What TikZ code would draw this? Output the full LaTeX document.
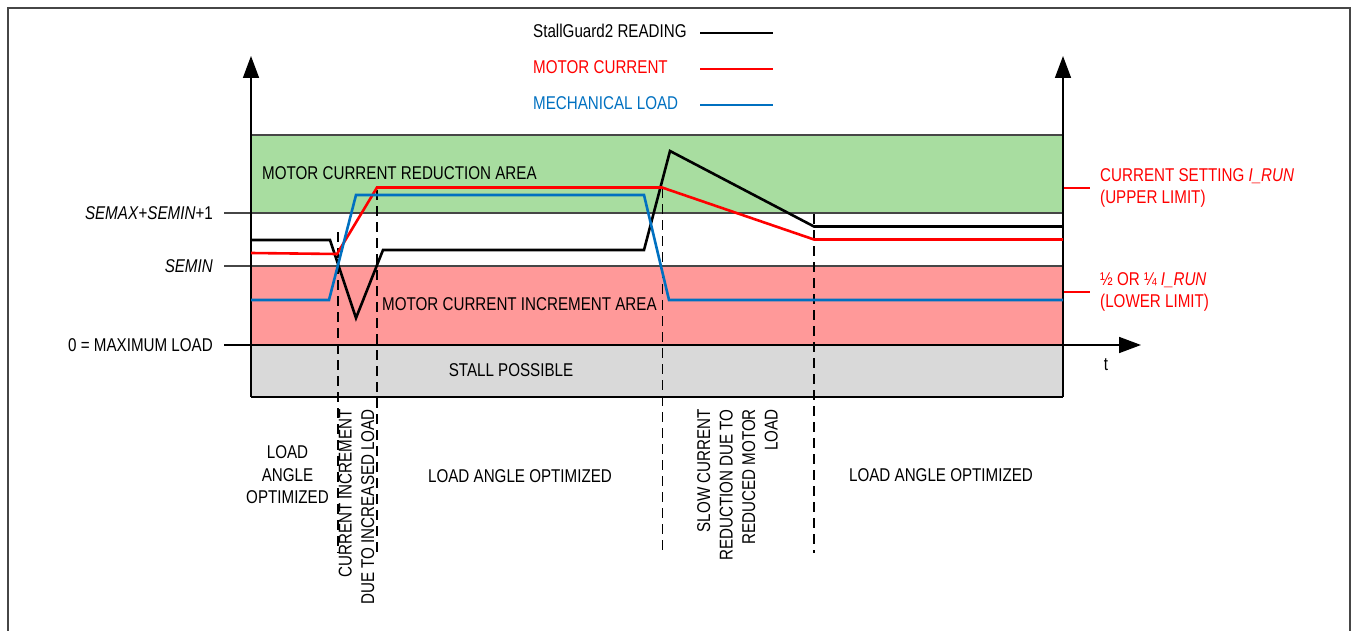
\documentclass[tikz,border=0pt]{standalone}
\usepackage{fontspec}
\setmainfont{Liberation Sans}[FakeStretch=0.82]
\usetikzlibrary{positioning,arrows.meta}

\definecolor{areagreen}{RGB}{168,221,160}
\definecolor{areared}{RGB}{255,153,153}
\definecolor{areagrey}{RGB}{217,217,217}
\definecolor{loadblue}{RGB}{0,112,192}
\definecolor{framegrey}{RGB}{70,70,70}

\begin{document}
\begin{tikzpicture}[x=1pt,y=-1pt,font=\fontsize{18.5}{22.5}\selectfont,
    lbl/.style={inner sep=0pt},
    level/.style={draw=framegrey,line width=1.3pt},
    curve/.style={line width=2.6pt},
    phase/.style={line width=1.1pt,dash pattern=on 10pt off 6pt},
    axis/.style={line width=1.6pt,-{Triangle[length=22pt,width=16pt]}},
    limit/.style={red,line width=1.1pt}]
    \useasboundingbox (0,0) rectangle (1351,631);
    \draw[framegrey,line width=2pt] (8,631) -- (8,8) -- (1350,8) -- (1350,631);

    % areas
    \fill[areagreen] (251,135) rectangle (1063,213);
    \fill[areared] (251,266) rectangle (1063,345);
    \fill[areagrey] (251,345) rectangle (1063,397);
    \draw[level] (251,135) -- (1063,135);
    \draw[line width=1.8pt] (251,397) -- (1063,397);

    % levels
    \node[lbl,anchor=east] (semax) at (213,213) {\textit{SEMAX}+\textit{SEMIN}+1};
    \node[lbl,anchor=east] (semin) at (213,266) {\textit{SEMIN}};
    \node[lbl,anchor=east] (zero) at (213,345) {0 = MAXIMUM LOAD};
    \coordinate (semaxR) at (1063,213);
    \coordinate (seminR) at (1063,266);
    \coordinate (tend) at (1141,345);
    \draw[level] ([xshift=11pt]semax.east) -- (semaxR);
    \draw[level] ([xshift=11pt]semin.east) -- (seminR);

    % axes
    \draw[axis] (251,397) -- (251,56);
    \draw[axis] (1063,397) -- (1063,56);
    \draw[axis] ([xshift=11pt]zero.east) -- (tend);
    \node[lbl] (t) at (1106,365) {t};

    % phases
    \draw[phase] (338,232) -- (338,553);
    \draw[phase] (377,190) -- (377,553);
    \draw[phase] (662.5,188) -- (662.5,553);
    \draw[phase] (814,214) -- (814,553);

    % area labels
    \node[lbl,anchor=west] (reduce) at (262,173) {MOTOR CURRENT REDUCTION AREA};
    \node[lbl,anchor=west] (incr) at (382,304) {MOTOR CURRENT INCREMENT AREA};
    \node[lbl] (stall) at (511,370) {STALL POSSIBLE};

    % curves
    \draw[curve] (251,240) -- (330,240) -- (356,318) -- (383,250) -- (644,250)
        -- (670,151) -- (814,226.5) -- (1063,226.5);
    \draw[curve,red] (251,253) -- (337,254) -- (377,187.5) -- (662,187.5)
        -- (814,239.5) -- (1063,239.5);
    \draw[curve,loadblue] (251,300) -- (329,300) -- (356,195) -- (644,195)
        -- (669,300) -- (1063,300);

    % legend
    \node[lbl,anchor=west] (sgtxt) at (533,31) {StallGuard2 READING};
    \node[lbl,red] (mctxt) [below=36pt of sgtxt.west,anchor=west] {MOTOR CURRENT};
    \node[lbl,loadblue] (mltxt) [below=36pt of mctxt.west,anchor=west] {MECHANICAL LOAD};
    \draw[curve] (700,33) -- (773,33);
    \draw[curve,red] (700,69) -- (773,69);
    \draw[curve,loadblue] (700,105) -- (773,105);

    % limits
    \node[lbl,anchor=west,align=left,red] (iset) at (1100,188)
        {CURRENT SETTING \textit{I\_RUN}\\(UPPER LIMIT)};
    \node[lbl,anchor=west,align=left,red] (ilow) at (1100,292)
        {½ OR ¼ \textit{I\_RUN}\\(LOWER LIMIT)};
    \coordinate (isetL) at (1064,188);
    \coordinate (ilowL) at (1064,292);
    \draw[limit] (isetL) -- ([xshift=-10pt]iset.west);
    \draw[limit] (ilowL) -- ([xshift=-10pt]ilow.west);

    % phase labels
    \node[lbl,align=center] (opt1) at (287.5,475) {LOAD\\ANGLE\\OPTIMIZED};
    \node[lbl,rotate=90,anchor=east,align=right] (incload) at (356.5,409)
        {CURRENT INCREMENT\\DUE TO INCREASED LOAD};
    \node[lbl] (opt2) at (520,476) {LOAD ANGLE OPTIMIZED};
    \node[lbl,rotate=90,anchor=east,align=right] (slow) at (737.5,409)
        {SLOW CURRENT\\REDUCTION DUE TO\\REDUCED MOTOR\\LOAD};
    \node[lbl] (opt3) at (941,475) {LOAD ANGLE OPTIMIZED};
\end{tikzpicture}
\end{document}
